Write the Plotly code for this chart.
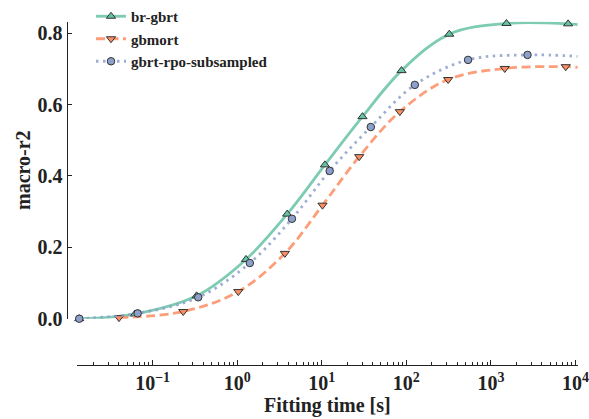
import plotly.graph_objects as go

# Fitting time [s] and macro-r2 at each evaluated checkpoint
br_gbrt_time = [0.01355, 0.0618, 0.331, 1.27, 3.90, 10.9, 30.3, 87.7, 322, 1528, 8185]
br_gbrt_r2 = [0.000, 0.013, 0.064, 0.166, 0.293, 0.431, 0.566, 0.695, 0.797, 0.827, 0.826]

gbmort_time = [0.040, 0.230, 1.03, 3.66, 10.2, 27.7, 83.8, 312, 1459, 7674]
gbmort_r2 = [0.003, 0.020, 0.076, 0.183, 0.318, 0.454, 0.580, 0.670, 0.701, 0.706]

rpo_time = [0.01355, 0.0665, 0.346, 1.41, 4.44, 12.4, 38.0, 126, 537, 2710]
rpo_r2 = [0.000, 0.015, 0.060, 0.156, 0.280, 0.414, 0.537, 0.655, 0.725, 0.739]

# where each fitted curve runs out at the right edge
curve_end_time = 10600
br_gbrt_end_r2 = 0.824
gbmort_end_r2 = 0.704
rpo_end_r2 = 0.735

series_names = ["br-gbrt", "gbmort", "gbrt-rpo-subsampled"]

x_tick_vals = [0.1, 1, 10, 100, 1000, 10000]
x_tick_text = ["10<sup>−1</sup>", "10<sup>0</sup>", "10<sup>1</sup>",
               "10<sup>2</sup>", "10<sup>3</sup>", "10<sup>4</sup>"]
y_tick_vals = [0.0, 0.2, 0.4, 0.6, 0.8]

W, H = 589, 419
FONT = "Liberation Serif"
AXIS_COLOR = "#222222"
EDGE = "#333333"

styles = [
    dict(color="rgba(102,194,165,0.85)", fill="#66c2a5", dash="solid",
         symbol="triangle-up", width=2.8, size=8),
    dict(color="rgba(252,141,98,0.85)", fill="#fc8d62", dash="9px,4.5px",
         symbol="triangle-down", width=2.8, size=8),
    dict(color="rgba(141,160,203,0.85)", fill="#8da0cb", dash="2.5px,4.5px",
         symbol="circle", width=2.8, size=7.5),
]

data = [
    (br_gbrt_time, br_gbrt_r2, br_gbrt_end_r2),
    (gbmort_time, gbmort_r2, gbmort_end_r2),
    (rpo_time, rpo_r2, rpo_end_r2),
]

fig = go.Figure()

for name, (t, r2, end_r2), st in zip(series_names, data, styles):
    # smooth curve through the checkpoints, extended to the axis end
    fig.add_trace(go.Scatter(
        x=t + [curve_end_time], y=r2 + [end_r2], mode="lines",
        line=dict(color=st["color"], width=st["width"], dash=st["dash"],
                  shape="spline", smoothing=1.0),
        showlegend=False, cliponaxis=False, hoverinfo="skip",
    ))
    fig.add_trace(go.Scatter(
        x=t, y=r2, mode="markers",
        marker=dict(symbol=st["symbol"], size=st["size"], color=st["fill"],
                    line=dict(color=EDGE, width=1)),
        showlegend=False, cliponaxis=False, name=name,
    ))

# legend entries
for name, st in zip(series_names, styles):
    fig.add_trace(go.Scatter(
        x=[None], y=[None], mode="lines+markers", name=name,
        line=dict(color=st["color"], width=st["width"], dash=st["dash"]),
        marker=dict(symbol=st["symbol"], size=st["size"], color=st["fill"],
                    line=dict(color=EDGE, width=1)),
    ))

x0_px, x1_px = 76.7, 578.0
ytop_px, ybot_px = 21.7, 318.7
xaxis_px = 365.0
yaxis_px = 66.7

fig.update_layout(
    width=W, height=H,
    margin=dict(l=0, r=0, t=0, b=0),
    paper_bgcolor="white", plot_bgcolor="white",
    font=dict(family=FONT, color=AXIS_COLOR, size=19, weight="bold"),
    xaxis=dict(
        type="log",
        range=[-1.898, 4.03],
        domain=[x0_px / W, x1_px / W],
        anchor="free", position=(H - xaxis_px) / H,
        showline=True, linecolor=AXIS_COLOR, linewidth=1.3,
        showgrid=False, zeroline=False,
        tickmode="array", tickvals=x_tick_vals, ticktext=x_tick_text,
        ticks="inside", ticklen=5, tickwidth=1.2, tickcolor=AXIS_COLOR,
        minor=dict(ticks="inside", ticklen=2.5, tickwidth=1, tickcolor=AXIS_COLOR,
                   dtick="D1", showgrid=False),
        tickfont=dict(family=FONT, size=20, weight="bold", color=AXIS_COLOR),
        title=dict(text="Fitting time [s]", standoff=4,
                   font=dict(family=FONT, size=20, weight="bold", color=AXIS_COLOR)),
        automargin=False,
    ),
    yaxis=dict(
        range=[0, 0.832],
        domain=[(H - ybot_px) / H, (H - ytop_px) / H],
        anchor="free", position=yaxis_px / W,
        showline=True, linecolor=AXIS_COLOR, linewidth=1.3,
        showgrid=False, zeroline=False,
        tickmode="array", tickvals=y_tick_vals, tickformat=".1f",
        ticks="inside", ticklen=4, tickwidth=1.2, tickcolor=AXIS_COLOR,
        tickfont=dict(family=FONT, size=20, weight="bold", color=AXIS_COLOR),
        title=dict(text="macro-r2", standoff=0,
                   font=dict(family=FONT, size=20, weight="bold", color=AXIS_COLOR)),
        automargin=False,
    ),
    legend=dict(
        x=91 / W, y=1.0, xanchor="left", yanchor="top",
        bgcolor="rgba(0,0,0,0)",
        font=dict(family=FONT, size=15, weight="bold", color=AXIS_COLOR),
        itemwidth=30, tracegroupgap=0,
    ),
)

fig.write_html("out.html")
